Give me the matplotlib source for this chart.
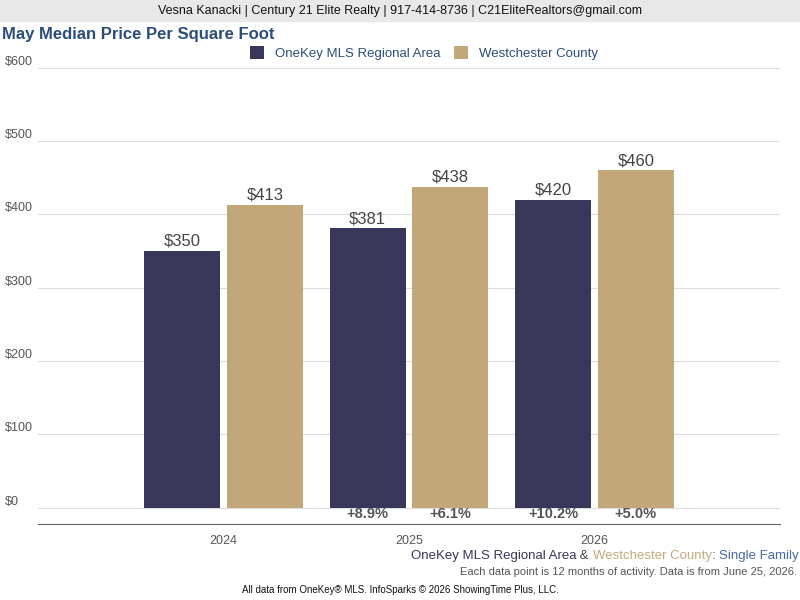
import matplotlib
matplotlib.use("Agg")
import matplotlib.pyplot as plt
import numpy as np

years = ["2024", "2025", "2026"]
onekey = [350, 381, 420]
westchester = [413, 438, 460]
chg_onekey = ["", "+8.9%", "+10.2%"]
chg_west = ["", "+6.1%", "+5.0%"]
yticks = [0, 100, 200, 300, 400, 500, 600]

navy = "#383659"
tan = "#c2a878"
plt.rcParams['font.family'] = ['Liberation Sans', 'DejaVu Sans']

fig = plt.figure(figsize=(8, 6), dpi=100)
ax = fig.add_axes([0.0475, 0.127, 0.9275, 0.76])
x = np.arange(len(years))
w = 0.41
off = 0.223
b1 = ax.bar(x - off, onekey, w, color=navy, zorder=3)
b2 = ax.bar(x + off, westchester, w, color=tan, zorder=3)
for xi, v in zip(x - off, onekey):
    ax.text(xi, v + 3, f"${v}", ha="center", va="bottom", fontsize=12, color="#444444")
for xi, v in zip(x + off, westchester):
    ax.text(xi, v + 3, f"${v}", ha="center", va="bottom", fontsize=12, color="#444444")
for xi, s in zip(x - off, chg_onekey):
    ax.text(xi, -8, s, ha="center", va="center", fontsize=10.5, fontweight="bold", color="#555555")
for xi, s in zip(x + off, chg_west):
    ax.text(xi, -8, s, ha="center", va="center", fontsize=10.5, fontweight="bold", color="#555555")

ax.set_xlim(-1, 3)
ax.set_ylim(-22, 600)
ax.set_yticks(yticks)
ax.set_yticklabels([f"${t}" for t in yticks], fontsize=9, color="#555555")
ax.set_xticks(x)
ax.set_xticklabels(years, fontsize=9, color="#555555")
ax.tick_params(length=0, pad=8)
ax.tick_params(axis="y", pad=8)
ax.grid(axis="y", color="#dddddd", zorder=0)
for s in ["top", "right", "left"]:
    ax.spines[s].set_visible(False)
ax.spines["bottom"].set_color("#666666")
for lbl in ax.get_yticklabels():
    lbl.set_horizontalalignment("left")
    lbl.set_x(-0.048 / 0.9275 * 1.0 + 0.0)
ax.yaxis.set_tick_params(pad=0)
for lbl in ax.get_yticklabels():
    lbl.set_transform(fig.transFigure + matplotlib.transforms.ScaledTranslation(0, 0, fig.dpi_scale_trans))
ax.set_yticklabels([f"${t}" for t in yticks])
import matplotlib.transforms as mt
trans = mt.blended_transform_factory(fig.transFigure, ax.transData)
ax.set_yticklabels([])
for t in yticks:
    ax.text(0.006, t, f"${t}", transform=trans, ha="left", va="bottom", fontsize=9, color="#555555")

fig.patches.append(plt.Rectangle((0, 0.965), 1, 0.035, transform=fig.transFigure, color="#e8e8e8"))
fig.text(0.5, 0.982, "Vesna Kanacki | Century 21 Elite Realty | 917-414-8736 | C21EliteRealtors@gmail.com",
         ha="center", va="center", fontsize=9, color="#111111")
fig.text(0.003, 0.942, "May Median Price Per Square Foot", ha="left", va="center",
         fontsize=12, fontweight="bold", color="#2b4d7a")
ax.legend([b1, b2], ["OneKey MLS Regional Area", "Westchester County"], loc="lower center",
          bbox_to_anchor=(0.52, 1.0), ncol=2, frameon=False, fontsize=9.5,
          handlelength=1.1, handleheight=1.1, columnspacing=1.0, labelcolor="#2b4d7a",
          borderaxespad=0.2)

t1 = fig.text(0.998, 0.073, "Single Family", ha="right", va="center", fontsize=9.5, color="#4a6aa0")
fig.canvas.draw()
r = fig.canvas.get_renderer()
def left_of(tobj, s, color):
    bb = tobj.get_window_extent(r)
    return fig.text(bb.x0 / 800, 0.073, s, ha="right", va="center", fontsize=9.5, color=color)
t2 = left_of(t1, ": ", "#444444")
t3 = left_of(t2, "Westchester County", tan)
t4 = left_of(t3, " & ", "#444444")
t5 = left_of(t4, "OneKey MLS Regional Area", navy)
fig.text(0.996, 0.047, "Each data point is 12 months of activity. Data is from June 25, 2026.",
         ha="right", va="center", fontsize=8, color="#555555")
fig.text(0.5, 0.017, "All data from OneKey® MLS. InfoSparks © 2026 ShowingTime Plus, LLC.",
         ha="center", va="center", fontsize=7, color="#111111")
fig.savefig("out.png", dpi=100)
